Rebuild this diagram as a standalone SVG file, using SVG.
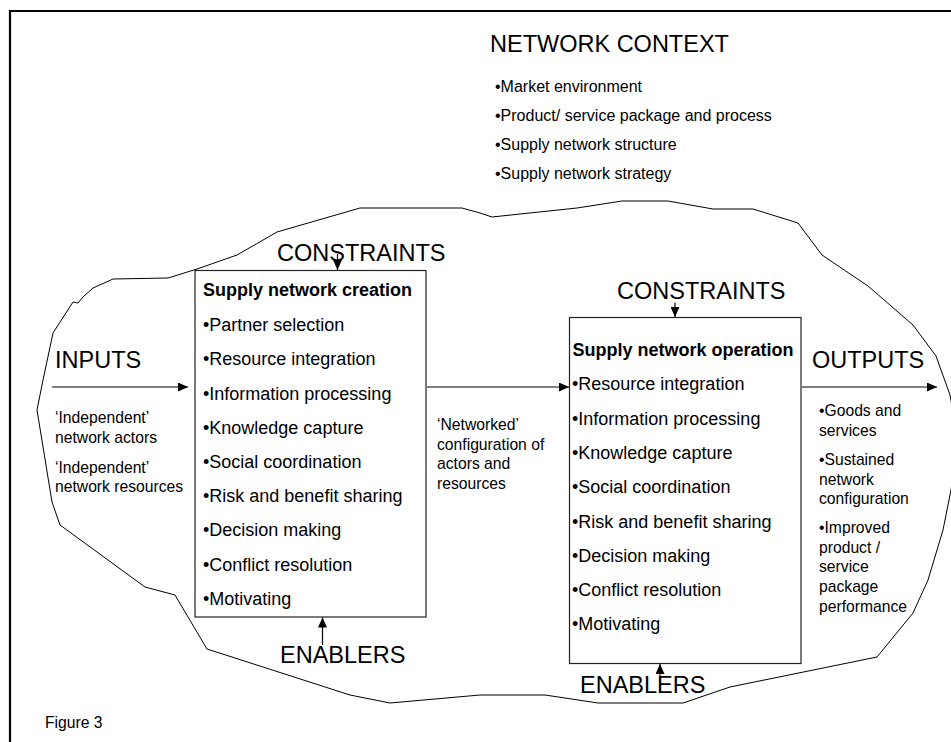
<svg xmlns="http://www.w3.org/2000/svg" width="951" height="742" viewBox="0 0 951 742">
<style>
text{font-family:"Liberation Sans",Arial,sans-serif;fill:#000}
.big{font-size:23.5px}
.item{font-size:18px}
.title{font-size:18px;font-weight:bold}
.small{font-size:15.7px}
.ctx{font-size:16px}
.box{fill:#fff;stroke:#222;stroke-width:1.2}
.conn{stroke:#000;stroke-width:1.2;fill:none;marker-end:url(#ah)}
</style>
<defs>
<marker id="ah" viewBox="0 0 10 9" refX="10" refY="4.5" markerWidth="10.5" markerHeight="9" markerUnits="userSpaceOnUse" orient="auto"><path d="M0,0 L10,4.5 L0,9 Z" fill="#000"/></marker>
</defs>
<rect x="0" y="0" width="951" height="742" fill="#fff"/>
<g id="frame"><path d="M10,745 L10,11 L955,11" fill="none" stroke="#000" stroke-width="2.2"/></g>
<g id="network-boundary"><polygon fill="none" stroke="#000" stroke-width="1" points="360,208 462,208 480,213 492,217 577,208 622,201 668,201 713,209 753,209 798,223 822,255 868,286 913,325 936,356 950,395 958,440 951,490 943,530 928,580 913,613 877,657 730,687 683,703 598,703 545,695 480,695 390,703 350,695 207,649 175,595 145,587 60,525 52,502 37,410 43,380 53,333 73,302 78,303 83,297 93,288 113,279 168,278 197,269 237,255 277,232"/></g>
<g id="network-context">
<text class="big" x="490" y="52">NETWORK CONTEXT</text>
<text class="ctx" x="495" y="92">•Market environment</text>
<text class="ctx" x="495" y="121">•Product/ service package and process</text>
<text class="ctx" x="495" y="149.5">•Supply network structure</text>
<text class="ctx" x="495" y="178.5">•Supply network strategy</text>
</g>
<g id="inputs">
<text class="big" x="55" y="368">INPUTS</text>
<text class="small" x="55" y="423">‘Independent’</text>
<text class="small" x="55" y="442.5">network actors</text>
<text class="small" x="55" y="472.5">‘Independent’</text>
<text class="small" x="55" y="492">network resources</text>
</g>
<g id="creation">
<rect class="box" x="195" y="270.5" width="231" height="346.5"/>
<text class="title" x="203" y="296">Supply network creation</text>
<text class="item" x="203" y="330.5">•Partner selection</text>
<text class="item" x="203" y="365">•Resource integration</text>
<text class="item" x="203" y="399.5">•Information processing</text>
<text class="item" x="203" y="433.5">•Knowledge capture</text>
<text class="item" x="203" y="467.5">•Social coordination</text>
<text class="item" x="203" y="502">•Risk and benefit sharing</text>
<text class="item" x="203" y="536">•Decision making</text>
<text class="item" x="203" y="570.5">•Conflict resolution</text>
<text class="item" x="203" y="604.5">•Motivating</text>
</g>
<g id="constraints-1"><text class="big" x="277" y="261">CONSTRAINTS</text></g>
<g id="enablers-1"><text class="big" x="280" y="663">ENABLERS</text></g>
<g id="networked">
<text class="small" x="437" y="430">‘Networked’</text>
<text class="small" x="437" y="449.5">configuration of</text>
<text class="small" x="437" y="469">actors and</text>
<text class="small" x="437" y="488.5">resources</text>
</g>
<g id="operation">
<rect class="box" x="569.5" y="317.5" width="231.5" height="346"/>
<text class="title" x="572.5" y="356">Supply network operation</text>
<text class="item" x="572" y="390">•Resource integration</text>
<text class="item" x="572" y="424.5">•Information processing</text>
<text class="item" x="572" y="459">•Knowledge capture</text>
<text class="item" x="572" y="493">•Social coordination</text>
<text class="item" x="572" y="527.5">•Risk and benefit sharing</text>
<text class="item" x="572" y="562">•Decision making</text>
<text class="item" x="572" y="596">•Conflict resolution</text>
<text class="item" x="572" y="630">•Motivating</text>
</g>
<g id="constraints-2"><text class="big" x="617" y="299">CONSTRAINTS</text></g>
<g id="enablers-2"><text class="big" x="580" y="693">ENABLERS</text></g>
<g id="outputs">
<text class="big" x="812" y="368">OUTPUTS</text>
<text class="small" x="819" y="416">•Goods and</text>
<text class="small" x="819" y="435.5">services</text>
<text class="small" x="819" y="465">•Sustained</text>
<text class="small" x="819" y="484.5">network</text>
<text class="small" x="819" y="504">configuration</text>
<text class="small" x="819" y="533">•Improved</text>
<text class="small" x="819" y="552.5">product /</text>
<text class="small" x="819" y="572">service</text>
<text class="small" x="819" y="592">package</text>
<text class="small" x="819" y="611.5">performance</text>
</g>
<g id="caption"><text class="small" x="45" y="728">Figure 3</text></g>
<g id="connectors">
<path class="conn" d="M52,387 L188,387"/>
<path class="conn" d="M427,387 L569,387"/>
<path class="conn" d="M802,387 L937,387"/>
<path class="conn" d="M337.5,254 L337.5,270"/>
<path class="conn" d="M675,302.5 L675,317"/>
<path class="conn" d="M322.5,645 L322.5,617.5"/>
<path class="conn" d="M660,678 L660,664"/>
</g>
</svg>
